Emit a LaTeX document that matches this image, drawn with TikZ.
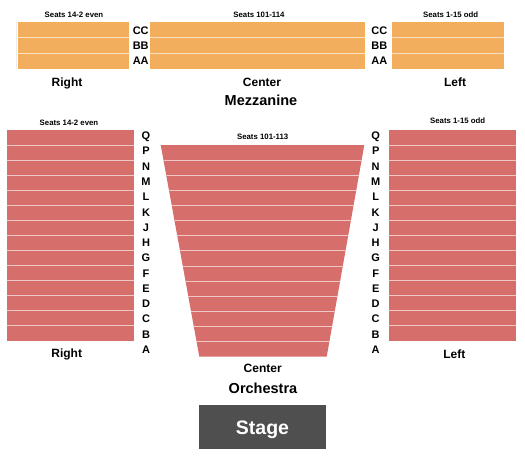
\documentclass[tikz,border=0pt]{standalone}
\usepackage{fontspec}
\setmainfont{Liberation Sans}
\begin{document}
\begin{tikzpicture}[x=1pt,y=-1pt,
  mezz/.style={fill={rgb,255:red,242;green,174;blue,92}},
  orch/.style={fill={rgb,255:red,214;green,110;blue,108}},
  sepm/.style={draw={rgb,255:red,250;green,226;blue,190},line width=0.9pt},
  sepo/.style={draw={rgb,255:red,240;green,200;blue,198},line width=0.9pt},
  capc/.style={inner sep=0pt,text depth=0pt},
  rowlab/.style={capc,text height=7.9pt,font=\fontsize{11}{11}\selectfont\bfseries},
  seatlab/.style={capc,text height=5.6pt,font=\fontsize{7.8}{8}\selectfont\bfseries},
  seclab/.style={capc,text height=8.6pt,font=\fontsize{12}{12}\selectfont\bfseries},
  biglab/.style={capc,text height=10.4pt,font=\fontsize{14.5}{15}\selectfont\bfseries}]
\useasboundingbox (0,0) rectangle (525,475);
% ---------- Mezzanine ----------
\draw[gray!15,line width=0.8pt] (16.3,22) -- (16.3,69);
\foreach \xa/\xb in {17.7/129,150/365,392.3/504}{
  \path[mezz] (\xa,22) rectangle (\xb,69);
  \foreach \yy in {37.5,53.3}{\draw[sepm] (\xa,\yy) -- (\xb,\yy);}
}
\foreach \lab/\yy [count=\i] in {CC/31,BB/45.7,AA/60.7}{
  \node[rowlab] (ml\i) at (140.7,\yy) {\lab};
  \node[rowlab] (mr\i) at (379.3,\yy) {\lab};
}
\node[seatlab] (ms1) at (74,15) {Seats 14-2 even};
\node[seatlab] (ms2) at (259,14.5) {Seats 101-114};
\node[seatlab] (ms3) at (450.7,14.5) {Seats 1-15 odd};
\node[seclab] (mright) at (67,81.7) {Right};
\node[seclab] (mcenter) at (262,81.7) {Center};
\node[seclab] (mleft) at (455,81.7) {Left};
\node[biglab] (mezz) at (261,100.5) {Mezzanine};
% ---------- Orchestra ----------
\foreach \xa/\xb in {7/134,389/515.7}{
  \path[orch] (\xa,130) rectangle (\xb,340.7);
  \foreach \k in {1,...,13}{\draw[sepo] (\xa,130+15.05*\k) -- (\xb,130+15.05*\k);}
}
\begin{scope}
  \path[orch] (160.7,145) -- (364.3,145) -- (326.7,356.7) -- (199.3,356.7) -- cycle;
  \clip (160.7,145) -- (364.3,145) -- (326.7,356.7) -- (199.3,356.7) -- cycle;
  \foreach \k in {1,...,13}{\draw[sepo] (150,145+15.12*\k) -- (370,145+15.12*\k);}
\end{scope}
\foreach \lab [count=\i from 0] in {Q,P,N,M,L,K,J,H,G,F,E,D,C,B,A}{
  \node[rowlab] (ol\i) at (146,135.7+15.27*\i) {\lab};
  \node[rowlab] (or\i) at (375.7,135.7+15.27*\i) {\lab};
}
\node[seatlab] (os1) at (69,122.3) {Seats 14-2 even};
\node[seatlab] (os2) at (262.7,136.7) {Seats 101-113};
\node[seatlab] (os3) at (457.7,121) {Seats 1-15 odd};
\node[seclab] (oright) at (66.7,353.5) {Right};
\node[seclab] (ocenter) at (262.7,367.7) {Center};
\node[seclab] (oleft) at (454.3,353.7) {Left};
\node[biglab] (orchl) at (263,388) {Orchestra};
% ---------- Stage ----------
\path[fill={rgb,255:red,79;green,79;blue,79}] (199,405) rectangle (326,449);
\node[capc,text height=14pt,font=\fontsize{19.5}{20}\selectfont\bfseries,text=white] (stage) at (262.5,427) {Stage};
\end{tikzpicture}
\end{document}
